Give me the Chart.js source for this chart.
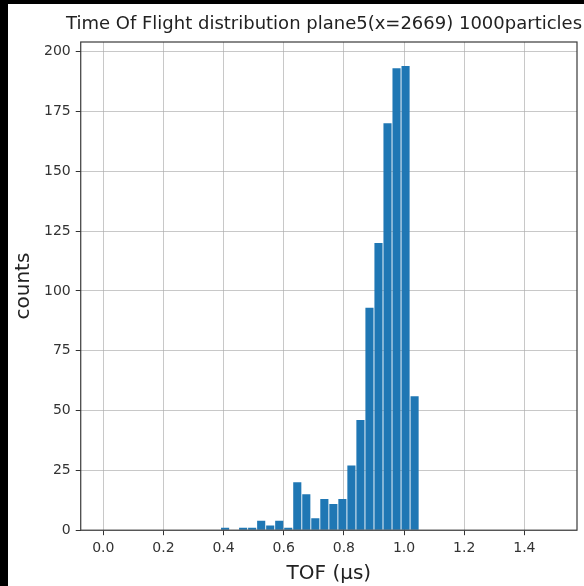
<!DOCTYPE html>
<html>
<head>
<meta charset="utf-8">
<script src="https://cdn.jsdelivr.net/npm/chart.js@4.4.0/dist/chart.umd.min.js"></script>
<style>
  html,body{margin:0;padding:0;background:#fff;}
  #wrap{position:relative;width:584px;height:586px;overflow:hidden;}
  #tof{position:absolute;left:0;top:0;}
  .edgeL{position:absolute;left:0;top:0;width:8px;height:586px;background:#000;}
  .edgeT{position:absolute;left:0;top:0;width:584px;height:4px;background:#000;}
</style>
</head>
<body>
<div id="wrap">
  <canvas id="tof" width="584" height="586"></canvas>
  <div class="edgeL"></div><div class="edgeT"></div>
</div>
<script>
// --- Histogram data (bin centres in µs, bin width 0.03)
const binCenters = [0.405, 0.465, 0.495, 0.525, 0.555, 0.585, 0.615, 0.645, 0.675, 0.705, 0.735,
                    0.765, 0.795, 0.825, 0.855, 0.885, 0.915, 0.945, 0.975, 1.005, 1.035];
const counts     = [1, 1, 1, 4, 2, 4, 1, 20, 15, 5, 13,
                    11, 13, 27, 46, 93, 120, 170, 193, 194, 56];
const xTicks = [0.0, 0.2, 0.4, 0.6, 0.8, 1.0, 1.2, 1.4];
const yTicks = [0, 25, 50, 75, 100, 125, 150, 175, 200];
const titleText = 'Time Of Flight distribution plane5(x=2669) 1000particles';

const FONT = 'DejaVu Sans';
const gridColor = 'rgba(170,170,170,0.65)';

// --- Frame round the axes + title over the plot
const frameAndTitle = {
  id:'frameAndTitle',
  afterDraw(chart){
    const {ctx, chartArea:a} = chart;
    ctx.save();
    ctx.strokeStyle='#3a3a3a'; ctx.lineWidth=1.2;
    ctx.strokeRect(a.left, a.top, a.right-a.left, a.bottom-a.top);
    ctx.fillStyle='#222'; ctx.font=`18px "${FONT}"`;
    ctx.textAlign='left'; ctx.textBaseline='middle';
    ctx.fillText(titleText, 66, 24);
    ctx.restore();
  }
};

const ctx = document.getElementById('tof').getContext('2d');
new Chart(ctx,{
  type:'bar',
  data:{datasets:[{
    label:'counts',
    data:binCenters.map((x,i)=>({x, y:counts[i]})),
    backgroundColor:'#1f77b4',
    borderWidth:0,
    barPercentage:0.9,
    categoryPercentage:1
  }]},
  options:{
    responsive:false,
    animation:false,
    layout:{padding:{left:12, top:42, right:7, bottom:0}},
    plugins:{legend:{display:false}, tooltip:{enabled:false}, title:{display:false}},
    scales:{
      x:{
        type:'linear', min:-0.075, max:1.575, offset:false, z:1,
        afterBuildTicks:s=>{ s.ticks = xTicks.map(v=>({value:v})); },
        ticks:{autoSkip:false, maxRotation:0, padding:5, color:'#333', font:{family:FONT, size:14},
               callback:v=>Number(v).toFixed(1)},
        grid:{offset:false, color:gridColor, lineWidth:1, tickLength:5, tickColor:'#333'},
        border:{display:false},
        title:{display:true, text:'TOF (µs)', color:'#222', font:{family:FONT, size:20}, padding:{top:0, bottom:0}}
      },
      y:{
        min:0, max:204, z:1,
        afterBuildTicks:s=>{ s.ticks = yTicks.map(v=>({value:v})); },
        ticks:{autoSkip:false, padding:5, color:'#333', font:{family:FONT, size:14}},
        grid:{color:gridColor, lineWidth:1, tickLength:5, tickColor:'#333'},
        border:{display:false},
        title:{display:true, text:'counts', color:'#222', font:{family:FONT, size:20}, padding:{top:0, bottom:3}}
      }
    }
  },
  plugins:[frameAndTitle]
});
</script>
</body>
</html>
